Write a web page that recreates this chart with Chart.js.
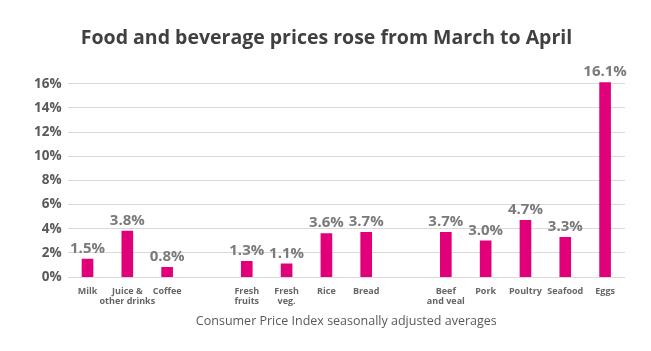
<!DOCTYPE html>
<html>
<head>
<meta charset="utf-8">
<script src="https://cdn.jsdelivr.net/npm/chart.js@4.4.1/dist/chart.umd.min.js"></script>
<style>
  html, body { margin: 0; padding: 0; background: #fff; }
  #wrap { width: 651px; height: 351px; position: relative; }
</style>
</head>
<body>
<div id="wrap"><canvas id="cpiChart"></canvas></div>
<script>
// blank entries are spacers between the three groups
const categories = [
    'Milk', ['Juice &', 'other drinks'], 'Coffee', '',
    ['Fresh', 'fruits'], ['Fresh', 'veg.'], 'Rice', 'Bread', '',
    ['Beef', 'and veal'], 'Pork', 'Poultry', 'Seafood', 'Eggs'
];
const priceChange = [1.5, 3.8, 0.8, null, 1.3, 1.1, 3.6, 3.7, null, 3.7, 3.0, 4.7, 3.3, 16.1];
const yTicks = [0, 2, 4, 6, 8, 10, 12, 14, 16];

const fontFamily = "'Segoe UI', 'Open Sans', 'Noto Sans', sans-serif";

// writes the percentage above every bar
const valueLabels = {
    id: 'valueLabels',
    afterDatasetsDraw(chart) {
        const ctx = chart.ctx;
        const meta = chart.getDatasetMeta(0);
        ctx.save();
        ctx.font = 'bold 15px ' + fontFamily;
        ctx.fillStyle = '#7a7a7a';
        ctx.textAlign = 'center';
        ctx.textBaseline = 'bottom';
        meta.data.forEach((bar, i) => {
            const v = priceChange[i];
            if (v === null) return;
            ctx.fillText(v.toFixed(1) + '%', bar.x, bar.y - 3);
        });
        ctx.restore();
    }
};

const ctx = document.getElementById('cpiChart');
const cpiChart = new Chart(ctx, {
    type: 'bar',
    data: {
        labels: categories,
        datasets: [{
            data: priceChange,
            backgroundColor: '#e2007a',
            barThickness: 11
        }]
    },
    options: {
        responsive: true,
        maintainAspectRatio: false,
        animation: false,
        layout: { padding: { left: 28, right: 26, top: 10, bottom: 18 } },
        plugins: {
            legend: { display: false },
            tooltip: { enabled: false },
            title: {
                display: true,
                text: 'Food and beverage prices rose from March to April',
                color: '#404040',
                font: { family: fontFamily, size: 19.5, weight: 'bold' },
                padding: { top: 17, bottom: 31 }
            }
        },
        scales: {
            x: {
                grid: { display: false },
                border: { display: false },
                ticks: {
                    color: '#666',
                    font: { family: fontFamily, size: 9, weight: 'bold', lineHeight: 1.05 },
                    maxRotation: 0,
                    autoSkip: false,
                    padding: 2
                },
                title: {
                    display: true,
                    text: 'Consumer Price Index seasonally adjusted averages',
                    color: '#595959',
                    font: { family: fontFamily, size: 12.5 },
                    padding: { top: 6 }
                }
            },
            y: {
                min: 0,
                max: 16.2,
                afterBuildTicks(axis) {
                    axis.ticks = yTicks.map(v => ({ value: v }));
                },
                grid: { color: '#d9d9d9', drawTicks: false },
                border: { display: false },
                ticks: {
                    color: '#595959',
                    font: { family: fontFamily, size: 13.5, weight: 'bold' },
                    padding: 6,
                    callback: v => v + '%'
                }
            }
        }
    },
    plugins: [valueLabels]
});
</script>
</body>
</html>
